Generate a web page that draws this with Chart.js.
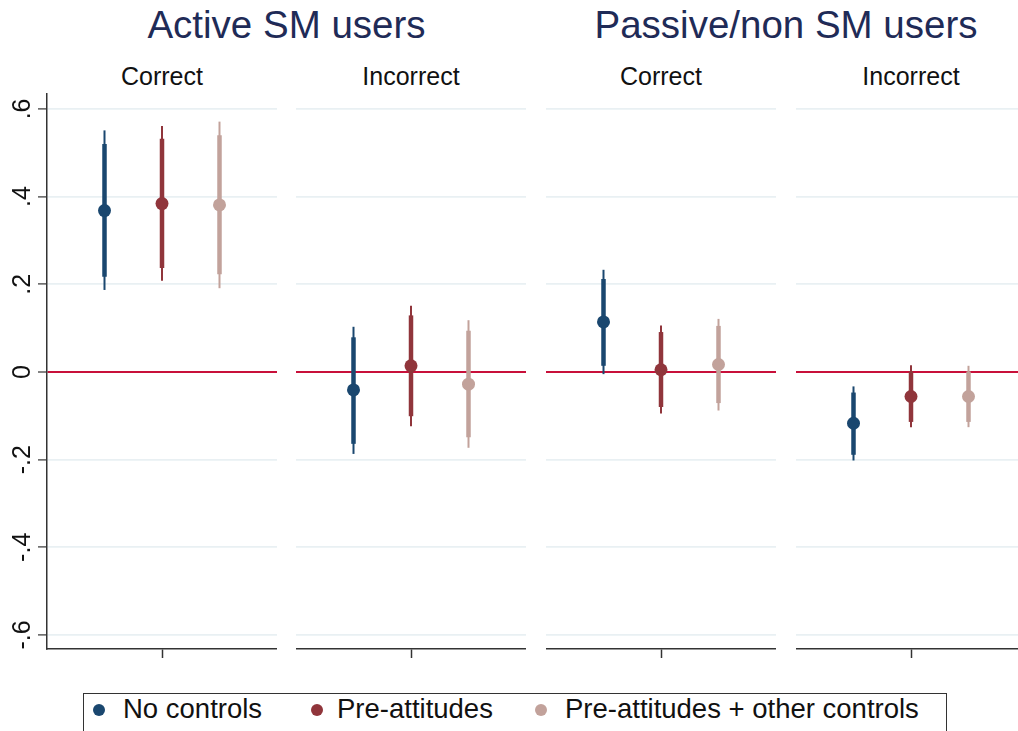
<!DOCTYPE html>
<html>
<head>
<meta charset="utf-8">
<script src="https://cdn.jsdelivr.net/npm/chart.js@4/dist/chart.umd.min.js"></script>
<style>
  body {
    margin: 0;
    width: 1018px;
    height: 731px;
    overflow: hidden;
    background: #fff;
    position: relative;
    font-family: "Liberation Sans", Arial, sans-serif;
  }
  .panel { position: absolute; top: 90px; }
  .txt { position: absolute; white-space: nowrap; line-height: 1; }
  .center { transform: translateX(-50%); }
  .title { font-size: 38.5px; color: #1f2b57; top: 6px; }
  .sub { font-size: 25px; color: #111; top: 64px; }
  #legend {
    position: absolute; left: 83px; top: 693px; width: 864px; height: 60px;
    border: 1.5px solid #333; box-sizing: border-box;
  }
  .dot { position: absolute; width: 12px; height: 12px; border-radius: 50%; top: 704px; }
  .leg { font-size: 27.5px; color: #111; top: 695px; }
</style>
</head>
<body>

<div id="texts"></div>
<div id="legend"></div>

<script>
// Layout of the figure: two groups of two panels
const groups = ['Active SM users', 'Passive/non SM users'];
const panelNames = ['Correct', 'Incorrect', 'Correct', 'Incorrect'];
const models = ['No controls', 'Pre-attitudes', 'Pre-attitudes + other controls'];
const modelColors = ['#1a476f', '#90353b', '#c2a29b'];

// y axis
const yTicks = [-0.6, -0.4, -0.2, 0, 0.2, 0.4, 0.6];
const yTickLabels = ['-.6', '-.4', '-.2', '0', '.2', '.4', '.6'];

// Point estimates per panel (Active correct, Active incorrect, Passive correct, Passive incorrect)
const estNoControls = [0.368, -0.041, 0.114, -0.117];
const estPreAtt = [0.384, 0.014, 0.005, -0.056];
const estPreAttOther = [0.381, -0.028, 0.017, -0.056];

// Inner (thick) confidence intervals
const ciInnerNoControls = [[0.217, 0.520], [-0.164, 0.079], [0.014, 0.212], [-0.189, -0.047]];
const ciInnerPreAtt = [[0.237, 0.532], [-0.101, 0.129], [-0.080, 0.091], [-0.114, 0.001]];
const ciInnerPreAttOther = [[0.223, 0.540], [-0.149, 0.094], [-0.071, 0.105], [-0.114, 0.001]];

// Outer (thin) confidence intervals
const ciOuterNoControls = [[0.187, 0.551], [-0.187, 0.103], [-0.005, 0.233], [-0.202, -0.033]];
const ciOuterPreAtt = [[0.208, 0.561], [-0.124, 0.151], [-0.095, 0.106], [-0.126, 0.015]];
const ciOuterPreAttOther = [[0.191, 0.571], [-0.173, 0.118], [-0.088, 0.121], [-0.126, 0.014]];

const estimates = [estNoControls, estPreAtt, estPreAttOther];
const innerCIs = [ciInnerNoControls, ciInnerPreAtt, ciInnerPreAttOther];
const outerCIs = [ciOuterNoControls, ciOuterPreAtt, ciOuterPreAttOther];

// Panel positions (px)
const panelLeft = [47, 296, 546, 796];
const panelWidth = 230;

// Draws the rotated y tick labels on the first panel
const yLabelPlugin = {
    id: 'yLabels',
    afterDraw(chart) {
        const scale = chart.scales.y;
        const ctx = chart.ctx;
        ctx.save();
        ctx.font = '25px "Liberation Sans", Arial, sans-serif';
        ctx.fillStyle = '#111';
        ctx.textAlign = 'center';
        ctx.textBaseline = 'alphabetic';
        yTicks.forEach((v, i) => {
            const py = scale.getPixelForValue(v);
            ctx.save();
            ctx.translate(30, py);
            ctx.rotate(-Math.PI / 2);
            ctx.fillText(yTickLabels[i], 0, 0);
            ctx.restore();
        });
        ctx.restore();
    }
};

function buildDatasets(p) {
    const points = [];
    const lines = [];
    models.forEach((m, i) => {
        const x = i + 1;
        const color = modelColors[i];
        points.push({
            label: m,
            data: [{ x: x, y: estimates[i][p] }],
            backgroundColor: color,
            borderWidth: 0,
            pointRadius: 6.5
        });
        lines.push({
            label: m + ' inner',
            data: [{ x: x, y: innerCIs[i][p][0] }, { x: x, y: innerCIs[i][p][1] }],
            showLine: true,
            borderColor: color,
            borderWidth: 4.5,
            borderCapStyle: 'butt',
            pointRadius: 0
        });
        lines.push({
            label: m + ' outer',
            data: [{ x: x, y: outerCIs[i][p][0] }, { x: x, y: outerCIs[i][p][1] }],
            showLine: true,
            borderColor: color,
            borderWidth: 2,
            borderCapStyle: 'butt',
            pointRadius: 0
        });
    });
    // first datasets are drawn on top
    return points.concat(lines);
}

function makePanel(p) {
    const first = p === 0;
    const canvas = document.createElement('canvas');
    const left = first ? 0 : panelLeft[p];
    const width = first ? panelLeft[0] + panelWidth : panelWidth;
    canvas.width = width;
    canvas.height = 569;
    canvas.className = 'panel';
    canvas.style.left = left + 'px';
    canvas.style.width = width + 'px';
    canvas.style.height = '569px';
    document.body.appendChild(canvas);

    new Chart(canvas, {
        type: 'scatter',
        data: { datasets: buildDatasets(p) },
        options: {
            responsive: false,
            animation: false,
            devicePixelRatio: 1,
            layout: {
                autoPadding: false,
                padding: { left: first ? 37 : 0, top: 4, right: 0, bottom: 0 }
            },
            plugins: { legend: { display: false }, tooltip: { enabled: false } },
            scales: {
                x: {
                    type: 'linear',
                    min: 0,
                    max: 4,
                    afterBuildTicks: s => { s.ticks = [{ value: 2 }]; },
                    afterFit: s => { s.height = 10; },
                    ticks: { display: false },
                    grid: {
                        drawOnChartArea: false,
                        drawTicks: true,
                        tickLength: 9,
                        tickColor: '#333',
                        tickWidth: 1.5
                    },
                    border: { display: true, color: '#333', width: 1.5 }
                },
                y: {
                    type: 'linear',
                    min: -0.632,
                    max: 0.634,
                    afterBuildTicks: s => { s.ticks = yTicks.map(v => ({ value: v })); },
                    afterFit: s => { s.width = first ? 10 : 0; },
                    ticks: { display: false },
                    grid: {
                        color: c => (Math.abs(c.tick.value) < 1e-9 ? '#c8103a' : '#e9f0f3'),
                        lineWidth: c => (Math.abs(c.tick.value) < 1e-9 ? 2 : 1.8),
                        drawTicks: first,
                        tickLength: 9,
                        tickColor: '#333',
                        tickWidth: 1.2
                    },
                    border: { display: first, color: '#333', width: 1.5 }
                }
            }
        },
        plugins: first ? [yLabelPlugin] : []
    });
}

panelNames.forEach((n, p) => makePanel(p));

// Titles and subtitles
const texts = document.getElementById('texts');
groups.forEach((g, i) => {
    const d = document.createElement('div');
    d.className = 'txt center title';
    d.textContent = g;
    d.style.left = (panelLeft[i * 2] + panelLeft[i * 2 + 1] + panelWidth) / 2 + 'px';
    texts.appendChild(d);
});
panelNames.forEach((n, p) => {
    const d = document.createElement('div');
    d.className = 'txt center sub';
    d.textContent = n;
    d.style.left = (panelLeft[p] + panelWidth / 2) + 'px';
    texts.appendChild(d);
});

// Legend
const dotX = [93, 311, 535];
const labelX = [123, 337, 565];
models.forEach((m, i) => {
    const dot = document.createElement('div');
    dot.className = 'dot';
    dot.style.left = dotX[i] + 'px';
    dot.style.background = modelColors[i];
    document.body.appendChild(dot);
    const t = document.createElement('div');
    t.className = 'txt leg';
    t.textContent = m;
    t.style.left = labelX[i] + 'px';
    document.body.appendChild(t);
});
</script>
</body>
</html>
